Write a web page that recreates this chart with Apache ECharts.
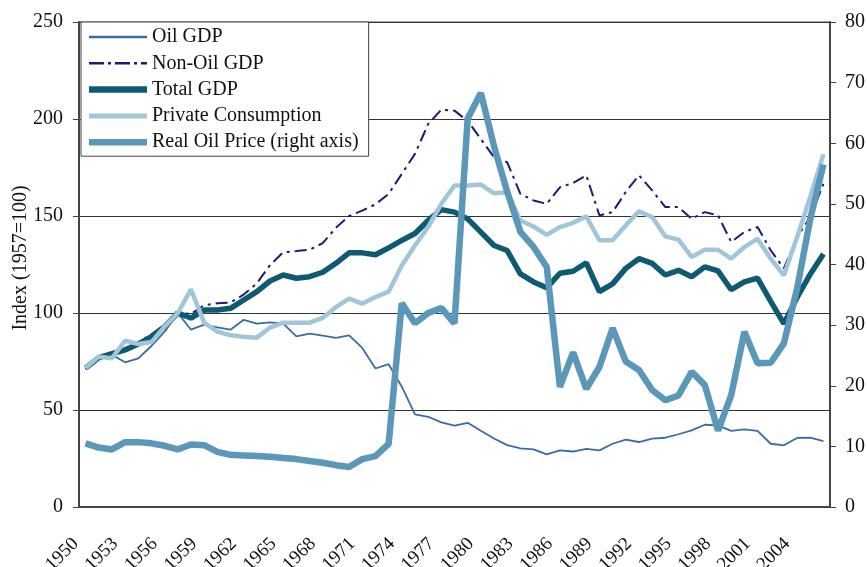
<!DOCTYPE html>
<html>
<head>
<meta charset="utf-8">
<script src="https://cdn.jsdelivr.net/npm/echarts@6/dist/echarts.min.js"></script>
<style>
  html, body { margin: 0; padding: 0; background: #fff; }
  #main { width: 867px; height: 567px; }
</style>
</head>
<body>
<div id="main"></div>
<script>
// years 1950 - 2006
var years = [];
for (var y = 1950; y <= 2006; y++) years.push(String(y));

// left axis, index 1957=100
var oilGdp = [
  71.6, 77, 78.4, 74.6, 76.6, 83, 90.4, 100, 91.4, 94,
  92.6, 91.4, 96.5, 94.5, 95.2, 94.5, 88, 89.4, 88.3, 87.2,
  88.5, 82, 71.4, 73.6, 62, 47.7, 46.5, 43.6, 41.9, 43.4,
  39.3, 35.3, 31.9, 30.2, 29.7, 27.1, 29.2, 28.6, 30, 29.2,
  32.6, 34.7, 33.5, 35.2, 35.7, 37.5, 39.5, 42.4, 42.1, 39.2,
  40, 39.2, 32.6, 31.8, 35.6, 35.7, 34
];
var nonOilGdp = [
  71, 76.5, 79.5, 81, 85, 89, 94, 100, 99.5, 104,
  105, 105.4, 109.5, 115.3, 124.7, 131.3, 131.9, 132.6, 136, 144,
  150, 152.8, 156, 161.4, 171.7, 182, 197.4, 204.8, 204.3, 199,
  189.7, 180.3, 177.7, 161.4, 158, 156.3, 164.8, 167, 171, 150.3,
  152, 162.4, 171, 163.2, 154.6, 154.6, 148.6, 152, 150.3, 136.6,
  141.8, 144.3, 132.3, 123, 139, 149.5, 166.5
];
var totalGdp = [
  71.6, 77, 79, 81, 84, 87.8, 93, 100, 97.4, 101.5,
  101.5, 102.4, 106.7, 111, 116.5, 119.6, 117.9, 118.7, 121, 125.6,
  131, 131, 130, 133.6, 137.4, 141, 147.7, 153.3, 152, 148.5,
  141.7, 134.8, 132.2, 120.2, 116, 113, 120.5, 121.5, 125.8, 111,
  115, 123, 128, 125.6, 119.6, 122, 118.7, 123.8, 121.7, 112,
  116, 118, 106, 94.5, 108, 120, 130.4
];
var privateCons = [
  71.6, 77.5, 76.7, 85.7, 84, 85, 93, 100, 112.2, 95,
  90.4, 88.5, 87.8, 87.3, 92.5, 95, 95, 95, 97.5, 103,
  107.4, 104.8, 108.2, 111, 124.5, 134.8, 144.3, 156.3, 165.7, 165.7,
  166.2, 161.7, 162.3, 147.7, 144.6, 140.3, 144.3, 146.5, 149.8, 137.5,
  137.5, 145.2, 152.4, 149.5, 139.5, 137.8, 128.9, 132.6, 132.6, 128,
  134, 138.3, 128, 119.4, 139, 159.8, 181.8
];
// right axis
var oilPrice = [
  10.5, 9.8, 9.5, 10.7, 10.7, 10.5, 10.1, 9.5, 10.3, 10.2,
  9.1, 8.6, 8.5, 8.4, 8.3, 8.1, 7.9, 7.6, 7.3, 6.9,
  6.6, 7.9, 8.4, 10.4, 33.6, 30.3, 32, 32.8, 30.3, 64.1,
  68.3, 59.5, 52, 45.4, 42.9, 39.6, 19.8, 25.5, 19.5, 23.1,
  29.5, 24, 22.6, 19.3, 17.6, 18.4, 22.3, 20.1, 12.6, 18.4,
  28.9, 23.7, 23.8, 27, 36, 47.5, 56.5
];

var serif = '"Liberation Serif", "DejaVu Serif", serif';

var myChart = echarts.init(document.getElementById('main'));

var option = {
  animation: false,
  backgroundColor: '#fff',
  textStyle: { fontFamily: serif },
  grid: {
    left: 79, right: 37, top: 22, bottom: 60,
    outerBoundsMode: 'none',   // year labels may run off the bottom like the original
    show: true, borderColor: '#8a8a8a', borderWidth: 1.5
  },
  graphic: [{
    type: 'text',
    x: 21, y: 258,
    rotation: Math.PI / 2,
    style: {
      text: 'Index (1957=100)',
      fontFamily: serif, fontSize: 20, fill: '#111',
      align: 'center', verticalAlign: 'middle'
    }
  }],
  legend: {
    orient: 'vertical',
    left: 81, top: 22,
    padding: [4, 10, 3, 8],
    itemWidth: 58, itemHeight: 14, itemGap: 4.3,
    symbolKeepAspect: true,
    backgroundColor: '#fff',
    borderColor: '#444', borderWidth: 1,
    textStyle: { fontFamily: serif, fontSize: 20, color: '#111', lineHeight: 22 },
    // flat bars as line samples, same thickness as the lines
    data: [
      { name: 'Oil GDP', icon: 'path://M0,0h58v2.5h-58z' },
      { name: 'Non-Oil GDP', icon: 'path://M0,0h15v2.5h-15z M19,0h3v2.5h-3z M26,0h15v2.5h-15z M45,0h3v2.5h-3z M52,0h6v2.5h-6z' },
      { name: 'Total GDP', icon: 'path://M0,0h58v6.5h-58z' },
      { name: 'Private Consumption', icon: 'path://M0,0h58v5h-58z' },
      { name: 'Real Oil Price (right axis)', icon: 'path://M0,0h58v6.5h-58z' }
    ]
  },
  xAxis: {
    type: 'category',
    data: years,
    boundaryGap: true,
    axisLine: { lineStyle: { color: '#444', width: 2 } },
    axisTick: { interval: 0, length: 6, lineStyle: { color: '#444' } },
    axisLabel: {
      interval: 2, rotate: 45, margin: 24,
      fontFamily: serif, fontSize: 19, color: '#111',
      padding: [0, 14, 28, 0]   // pulls labels back onto the left tick
    },
    splitLine: { show: false }
  },
  yAxis: [{
    type: 'value',
    min: 0, max: 250, interval: 50,
    axisLine: { show: true, lineStyle: { color: '#444', width: 2 } },
    axisTick: { show: true, length: 6, lineStyle: { color: '#444' } },
    axisLabel: { margin: 16, fontFamily: serif, fontSize: 20, color: '#111' },
    splitLine: { lineStyle: { color: '#333', width: 1 } }
  }, {
    type: 'value',
    position: 'right',
    min: 0, max: 80, interval: 10,
    axisLine: { show: true, lineStyle: { color: '#444', width: 2 } },
    axisTick: { show: true, length: 6, lineStyle: { color: '#444' } },
    axisLabel: { margin: 15, fontFamily: serif, fontSize: 20, color: '#111' },
    splitLine: { show: false }
  }],
  series: [{
    name: 'Oil GDP',
    type: 'line',
    data: oilGdp,
    symbol: 'none',
    lineStyle: { color: '#3a6ca3', width: 1.8 },
    itemStyle: { color: '#3a6ca3' }
  }, {
    name: 'Non-Oil GDP',
    type: 'line',
    data: nonOilGdp,
    symbol: 'none',
    lineStyle: { color: '#1c1c78', width: 2, type: [12, 5, 3, 5] },
    itemStyle: { color: '#1c1c78' }
  }, {
    name: 'Total GDP',
    type: 'line',
    data: totalGdp,
    symbol: 'none',
    lineStyle: { color: '#0d5a72', width: 5.5 },
    itemStyle: { color: '#0d5a72' }
  }, {
    name: 'Private Consumption',
    type: 'line',
    data: privateCons,
    symbol: 'none',
    lineStyle: { color: '#a2c6d9', width: 4.5 },
    itemStyle: { color: '#a2c6d9' }
  }, {
    name: 'Real Oil Price (right axis)',
    type: 'line',
    yAxisIndex: 1,
    data: oilPrice,
    symbol: 'none',
    lineStyle: { color: '#5b97b8', width: 6.5 },
    itemStyle: { color: '#5b97b8' }
  }]
};

myChart.setOption(option);
</script>
</body>
</html>
